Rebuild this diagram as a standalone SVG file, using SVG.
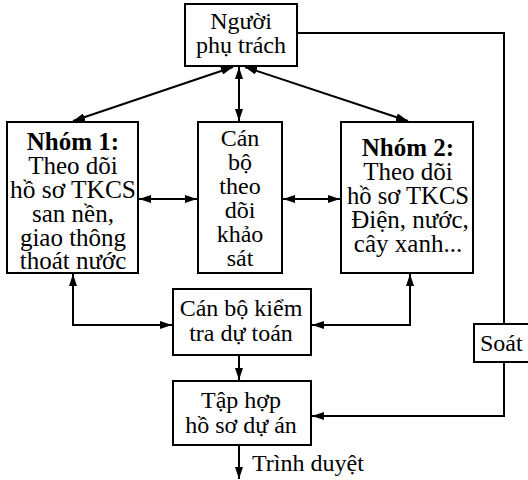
<svg xmlns="http://www.w3.org/2000/svg" width="528" height="480" viewBox="0 0 528 480">
<style>
.box{fill:#fff;stroke:#000;stroke-width:2}
text{font-family:'Liberation Serif','Times New Roman',Times,serif;font-size:24px;fill:#000;text-anchor:middle}
.g text{font-size:25px}
.b{font-weight:bold}
.s{text-anchor:start}
.c{fill:none;stroke:#000;stroke-width:2}
</style>
<defs>
<marker id="ah" viewBox="0 0 12 8" refX="12" refY="4" markerWidth="12" markerHeight="8" markerUnits="userSpaceOnUse" orient="auto-start-reverse">
<path d="M0,0 L12,4 L0,8 Z" fill="#000"/>
</marker>
</defs>
<rect width="528" height="480" fill="#fff"/>
<g id="connectors">
<line class="c" x1="233" y1="67" x2="73" y2="121" marker-start="url(#ah)" marker-end="url(#ah)"/>
<line class="c" x1="245" y1="67" x2="408" y2="121" marker-start="url(#ah)" marker-end="url(#ah)"/>
<line class="c" x1="239" y1="67" x2="239" y2="121" marker-start="url(#ah)" marker-end="url(#ah)"/>
<line class="c" x1="139" y1="199" x2="197" y2="199" marker-start="url(#ah)" marker-end="url(#ah)"/>
<line class="c" x1="283" y1="199" x2="340" y2="199" marker-start="url(#ah)" marker-end="url(#ah)"/>
<path class="c" d="M73,274 V325 H172" marker-start="url(#ah)" marker-end="url(#ah)"/>
<path class="c" d="M410,274 V325 H312" marker-start="url(#ah)" marker-end="url(#ah)"/>
<line class="c" x1="239" y1="355" x2="239" y2="380" marker-end="url(#ah)"/>
<path class="c" d="M297,33 H504 V324"/>
<path class="c" d="M504,362 V416 H312" marker-end="url(#ah)"/>
<line class="c" x1="239" y1="445" x2="239" y2="479" marker-end="url(#ah)"/>
</g>
<g id="nguoi-phu-trach">
<rect class="box" x="185" y="4" width="112" height="62"/>
<text x="241" y="29">Người</text>
<text x="241" y="53">phụ trách</text>
</g>
<g id="nhom1" class="g">
<rect class="box" x="7" y="122" width="131" height="151"/>
<text class="b" x="73" y="150">Nhóm 1:</text>
<text x="73" y="174">Theo dõi</text>
<text x="73" y="198" textLength="126" lengthAdjust="spacingAndGlyphs">hồ sơ TKCS</text>
<text x="73" y="222">san nền,</text>
<text x="73" y="246">giao thông</text>
<text x="73" y="269">thoát nước</text>
</g>
<g id="can-bo-theo-doi">
<rect class="box" x="198" y="122" width="84" height="151"/>
<text x="240" y="146">Cán</text>
<text x="240" y="170">bộ</text>
<text x="240" y="194">theo</text>
<text x="240" y="218">dõi</text>
<text x="240" y="242">khảo</text>
<text x="240" y="266">sát</text>
</g>
<g id="nhom2" class="g">
<rect class="box" x="341" y="122" width="132" height="151"/>
<text class="b" x="408" y="156">Nhóm 2:</text>
<text x="408" y="180">Theo dõi</text>
<text x="408" y="204" textLength="122" lengthAdjust="spacingAndGlyphs">hồ sơ TKCS</text>
<text x="410" y="228">Điện, nước,</text>
<text x="408" y="252">cây xanh...</text>
</g>
<g id="can-bo-kiem-tra">
<rect class="box" x="173" y="289" width="138" height="66"/>
<text x="241" y="316">Cán bộ kiểm</text>
<text x="241" y="341">tra dự toán</text>
</g>
<g id="tap-hop">
<rect class="box" x="173" y="381" width="138" height="64"/>
<text x="241" y="408">Tập hợp</text>
<text x="241" y="433">hồ sơ dự án</text>
</g>
<g id="soat">
<rect class="box" x="474" y="324" width="60" height="38"/>
<text class="s" x="480" y="351">Soát</text>
</g>
<text class="s" x="252" y="471">Trình duyệt</text>
</svg>
